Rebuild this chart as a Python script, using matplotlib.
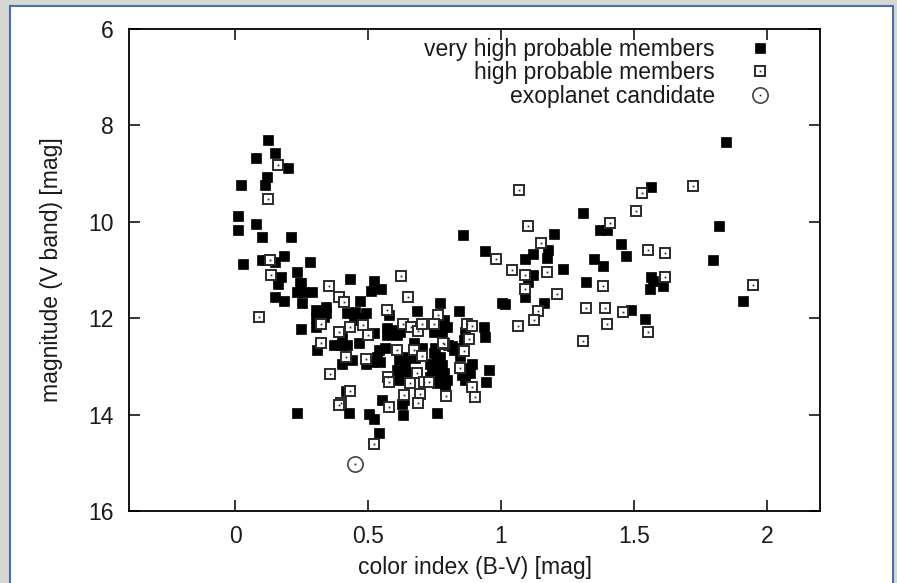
import matplotlib
matplotlib.use("Agg")
import matplotlib.pyplot as plt
from matplotlib.patches import Rectangle
from matplotlib.lines import Line2D

plt.rcParams['font.family'] = ['Liberation Sans', 'DejaVu Sans']

# very high probable members (B-V, V)
vh_bv = [0.122, 0.149, 0.078, 0.200, 0.121, 0.023, 0.112, 0.012, 0.078, 0.012,
         0.100, 0.210, 0.183, 0.100, 0.120, 0.149, 0.030, 0.282, 0.233, 0.172,
         0.162, 0.243, 0.430, 0.520, 0.510, 0.149, 0.183, 0.246, 0.233, 0.258,
         0.290, 0.252, 0.549, 0.468, 0.302, 0.302, 0.302, 0.340, 0.343, 0.248,
         0.421, 0.452, 0.490, 0.446, 0.477, 0.577, 0.684, 0.771, 0.840, 0.521,
         0.571, 0.596, 0.621, 0.571, 0.609, 0.402, 0.396, 0.371, 0.421, 0.465,
         0.308, 0.402, 0.440, 0.415, 0.759, 0.784, 0.759, 0.746, 0.777, 0.796,
         0.671, 0.702, 0.752, 0.802, 0.821, 0.540, 0.565, 0.534, 0.546, 0.515,
         0.615, 0.646, 0.677, 0.609, 0.640, 0.633, 0.615, 0.659, 0.734, 0.759,
         0.740, 0.765, 0.734, 0.759, 0.796, 0.790, 0.746, 0.771, 0.552, 0.633,
         0.627, 0.415, 0.427, 0.231, 0.502, 0.521, 0.631, 0.759, 0.540, 0.865,
         0.859, 0.934, 0.941, 0.815, 0.827, 0.844, 0.890, 0.881, 0.884, 0.956,
         0.943, 0.852, 0.865, 0.784, 0.790, 0.777, 0.857, 0.941, 1.121, 1.090,
         1.178, 1.171, 1.200, 1.310, 1.371, 1.397, 1.451, 1.469, 1.349, 1.382,
         1.234, 1.119, 1.102, 1.321, 1.090, 1.003, 1.015, 1.163, 1.490, 1.540,
         1.563, 1.563, 1.571, 1.562, 1.609, 1.848, 1.821, 1.799, 1.909, 0.490,
         0.332]
vh_v = [8.30, 8.57, 8.67, 8.88, 9.08, 9.24, 9.24, 9.88, 10.05, 10.16,
        10.31, 10.31, 10.70, 10.79, 10.80, 10.84, 10.88, 10.84, 11.04, 11.14,
        11.30, 11.27, 11.19, 11.22, 11.43, 11.55, 11.64, 11.28, 11.45, 11.45,
        11.45, 11.69, 11.40, 11.64, 11.83, 12.00, 12.18, 11.76, 11.90, 12.22,
        11.90, 11.87, 11.90, 12.04, 12.00, 11.93, 11.85, 11.68, 11.85, 12.31,
        12.21, 12.24, 12.28, 12.35, 12.35, 12.42, 12.56, 12.56, 12.56, 12.52,
        12.66, 12.94, 12.87, 12.83, 12.04, 12.04, 12.18, 12.28, 12.31, 12.18,
        12.52, 12.62, 12.62, 12.56, 12.66, 12.66, 12.62, 12.80, 12.90, 12.90,
        12.87, 12.80, 12.83, 13.07, 13.00, 13.18, 13.28, 13.14, 12.94, 12.87,
        13.07, 13.14, 13.21, 13.35, 13.28, 13.45, 12.73, 12.80, 13.70, 13.70,
        13.77, 13.52, 13.96, 13.96, 13.99, 14.10, 14.01, 13.97, 14.39, 12.28,
        12.45, 12.19, 12.40, 12.58, 12.62, 12.78, 12.94, 13.04, 13.14, 13.07,
        13.32, 13.18, 13.28, 13.14, 13.35, 12.97, 10.28, 10.61, 10.67, 10.77,
        10.59, 10.76, 10.25, 9.82, 10.16, 10.16, 10.46, 10.70, 10.78, 10.92,
        10.97, 11.10, 11.24, 11.25, 11.55, 11.68, 11.71, 11.68, 11.82, 12.01,
        9.27, 11.14, 11.23, 11.39, 11.33, 8.34, 10.09, 10.79, 11.64, 12.94,
        11.97]

# high probable members (B-V, V)
hp_bv = [0.162, 0.122, 0.131, 0.133, 0.353, 0.390, 0.410, 0.091, 0.322, 0.625,
         0.648, 0.571, 0.761, 0.746, 0.631, 0.661, 0.689, 0.701, 0.481, 0.431,
         0.392, 0.500, 0.321, 0.784, 0.358, 0.418, 0.493, 0.609, 0.674, 0.702,
         0.575, 0.577, 0.659, 0.684, 0.709, 0.727, 0.694, 0.686, 0.794, 0.433,
         0.398, 0.390, 0.580, 0.633, 0.521, 0.871, 0.892, 0.881, 0.781, 0.859,
         0.844, 0.890, 0.902, 1.069, 1.530, 1.508, 1.103, 1.409, 1.150, 0.980,
         1.552, 1.618, 1.040, 1.090, 1.174, 1.091, 1.211, 1.618, 1.382, 1.140,
         1.124, 1.319, 1.391, 1.459, 1.397, 1.063, 1.552, 1.310, 1.722, 1.948]
hp_v = [8.82, 9.52, 10.79, 11.10, 11.34, 11.57, 11.67, 11.98, 12.13, 11.12,
        11.55, 11.83, 11.93, 12.11, 12.11, 12.19, 12.26, 12.11, 12.15, 12.19,
        12.28, 12.35, 12.52, 12.54, 13.16, 12.81, 12.85, 12.66, 12.65, 12.78,
        13.21, 13.32, 13.34, 13.13, 13.32, 13.32, 13.58, 13.75, 13.61, 13.52,
        13.75, 13.80, 13.84, 13.59, 14.61, 12.12, 12.16, 12.44, 12.52, 12.69,
        13.03, 13.43, 13.64, 9.34, 9.40, 9.77, 10.09, 10.03, 10.43, 10.77,
        10.59, 10.64, 11.01, 11.10, 11.04, 11.39, 11.50, 11.15, 11.34, 11.86,
        12.04, 11.79, 11.79, 11.88, 12.13, 12.16, 12.29, 12.47, 9.25, 11.31]

# exoplanet candidate
cand_bv = [0.45]
cand_v = [15.03]

xticks = [0, 0.5, 1, 1.5, 2]
xtick_labels = ['0', '0.5', '1', '1.5', '2']
yticks = [6, 8, 10, 12, 14, 16]

fs = 16.5
txt = '#1a1a1a'

fig = plt.figure(figsize=(8.97, 5.83), dpi=100, facecolor='#d6d6d3')
# window-like white panel with blue frame
fig.add_artist(Rectangle((10 / 897, -0.02), 883 / 897, 1.02 - 6 / 583,
                         transform=fig.transFigure, facecolor='white',
                         edgecolor='#4a6ea8', linewidth=1.5, zorder=-10))

ax = fig.add_axes([129 / 897, 1 - 511 / 583, 691 / 897, 482 / 583])
ax.set_facecolor('white')

ax.plot(vh_bv, vh_v, linestyle='none', marker='s', ms=7.0, mfc='black',
        mec='black', mew=0.5, zorder=3)
ax.plot(hp_bv, hp_v, linestyle='none', marker='s', ms=6.6, mfc='white',
        mec='#2a2a2a', mew=1.4, zorder=4)
ax.plot(hp_bv, hp_v, linestyle='none', marker='s', ms=1.3, mfc='#333333',
        mec='none', zorder=5)
ax.plot(cand_bv, cand_v, linestyle='none', marker='o', ms=11, mfc='none',
        mec='#444444', mew=1.2, zorder=4)
ax.plot(cand_bv, cand_v, linestyle='none', marker='s', ms=1.3, mfc='#333333',
        mec='none', zorder=5)

ax.set_xlim(-0.4, 2.2)
ax.set_ylim(16, 6)
ax.set_xticks(xticks)
ax.set_xticklabels(xtick_labels)
ax.set_yticks(yticks)

for s in ax.spines.values():
    s.set_linewidth(1.3)
    s.set_color('black')
ax.tick_params(direction='in', length=8, width=1.1, top=True, right=True,
               labelsize=fs, colors='black', labelcolor=txt)
ax.tick_params(axis='x', pad=10)
ax.tick_params(axis='y', pad=11)

ax.set_xlabel('color index (B-V) [mag]', fontsize=fs, color=txt, labelpad=6)
ax.set_ylabel('magnitude (V band) [mag]', fontsize=fs, color=txt, labelpad=18)

# legend with markers right of the text
h_vh = Line2D([], [], linestyle='none', marker='s', ms=7.0, mfc='black',
              mec='black', mew=0.5)
h_hp = (Line2D([], [], linestyle='none', marker='s', ms=6.6, mfc='white',
               mec='#2a2a2a', mew=1.4),
        Line2D([], [], linestyle='none', marker='s', ms=1.3, mfc='#333333',
               mec='none'))
h_c = (Line2D([], [], linestyle='none', marker='o', ms=11, mfc='none',
              mec='#444444', mew=1.2),
       Line2D([], [], linestyle='none', marker='s', ms=1.3, mfc='#333333',
              mec='none'))
leg = ax.legend([h_vh, h_hp, h_c],
                ['very high probable members', 'high probable members',
                 'exoplanet candidate'],
                loc='upper right', bbox_to_anchor=(0.9276, 0.982),
                frameon=False, markerfirst=False, fontsize=fs,
                handlelength=0.9, handletextpad=1.5, borderpad=0,
                borderaxespad=0, labelspacing=0.03)
for t in leg.get_texts():
    t.set_color(txt)
    t.set_ha('right')

fig.savefig('out.png', dpi=100, facecolor=fig.get_facecolor())
